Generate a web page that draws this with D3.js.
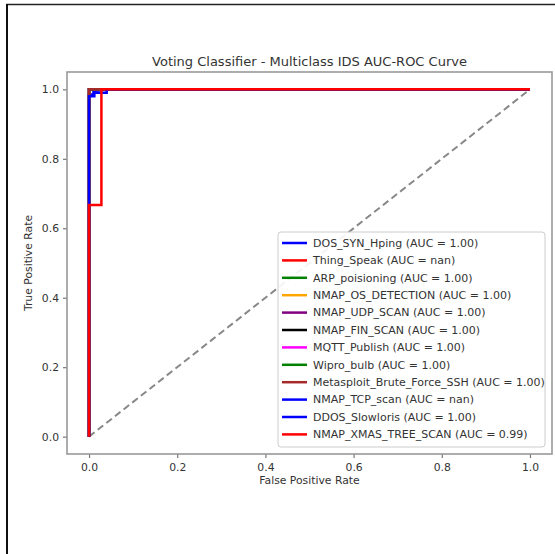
<!DOCTYPE html>
<html>
<head>
<meta charset="utf-8">
<script src="https://cdn.jsdelivr.net/npm/d3@7"></script>
<style>
  body { margin: 0; background: #fff; }
  text { font-family: "DejaVu Sans", sans-serif; fill: #333; }
</style>
</head>
<body>
<div id="chart-container"></div>
<script>
// class names, line colours and AUC labels (legend order)
var classNames = ["DOS_SYN_Hping", "Thing_Speak", "ARP_poisioning", "NMAP_OS_DETECTION",
  "NMAP_UDP_SCAN", "NMAP_FIN_SCAN", "MQTT_Publish", "Wipro_bulb",
  "Metasploit_Brute_Force_SSH", "NMAP_TCP_scan", "DDOS_Slowloris", "NMAP_XMAS_TREE_SCAN"];
var classColors = ["blue", "red", "green", "orange", "purple", "black", "magenta", "green",
  "brown", "blue", "blue", "red"];
var aucLabels = ["1.00", "nan", "1.00", "1.00", "1.00", "1.00", "1.00", "1.00", "1.00", "nan", "1.00", "0.99"];

// ROC points per class (NaN tpr = no positive samples, nothing drawn)
var fprValues = [
  [0, 0, 0.01, 0.01, 0.045, 1],
  [0, 1],
  [0, 0, 1],
  [0, 0, 1],
  [0, 0, 1],
  [0, 0, 1],
  [0, 0, 1],
  [0, 0, 1],
  [0, 0, 1],
  [0, 1],
  [0, 0, 0.012, 0.012, 0.04, 0.04, 1],
  [0, 0, 0.028, 0.028, 1]
];
var tprValues = [
  [0, 0.985, 0.985, 0.995, 1, 1],
  [NaN, NaN],
  [0, 1, 1],
  [0, 1, 1],
  [0, 1, 1],
  [0, 1, 1],
  [0, 1, 1],
  [0, 1, 1],
  [0, 1, 1],
  [NaN, NaN],
  [0, 0.98, 0.98, 0.99, 0.99, 1, 1],
  [0, 0.667, 0.667, 1, 1]
];

var tickValues = [0, 0.2, 0.4, 0.6, 0.8, 1.0];

var width = 555, height = 554;
var margin = { top: 72, right: 3, bottom: 100, left: 67 };
var plotW = width - margin.left - margin.right;
var plotH = height - margin.top - margin.bottom;

var svg = d3.select("#chart-container")
  .append("svg")
  .attr("width", width)
  .attr("height", height);

// outer frame of the screenshot (top and left only)
svg.append("line").attr("x1", 6).attr("x2", width).attr("y1", 4.5).attr("y2", 4.5)
  .attr("stroke", "#222").attr("stroke-width", 1.5);
svg.append("line").attr("x1", 7).attr("x2", 7).attr("y1", 4).attr("y2", height)
  .attr("stroke", "#111").attr("stroke-width", 2);

var g = svg.append("g")
  .attr("transform", "translate(" + margin.left + "," + margin.top + ")");

var x = d3.scaleLinear().domain([-0.05, 1.05]).range([0, plotW]);
var y = d3.scaleLinear().domain([-0.05, 1.05]).range([plotH, 0]);

// axes
var xAxis = g.append("g")
  .attr("transform", "translate(0," + plotH + ")")
  .call(d3.axisBottom(x).tickValues(tickValues).tickFormat(d3.format(".1f")).tickSize(4).tickPadding(5));
var yAxis = g.append("g")
  .call(d3.axisLeft(y).tickValues(tickValues).tickFormat(d3.format(".1f")).tickSize(4).tickPadding(4));

[xAxis, yAxis].forEach(function (ax) {
  ax.select(".domain").remove();
  ax.selectAll("line").attr("stroke", "#777").attr("stroke-width", 1.2);
  ax.selectAll("text").style("font-family", "DejaVu Sans").style("font-size", "10.8px").attr("fill", "#444");
});

// diagonal reference
g.append("line")
  .attr("x1", x(0)).attr("y1", y(0))
  .attr("x2", x(1)).attr("y2", y(1))
  .attr("stroke", "#888")
  .attr("stroke-width", 2)
  .attr("stroke-dasharray", "7,4");

// ROC curves
var line = d3.line()
  .defined(function (d) { return !isNaN(d[1]); })
  .x(function (d) { return x(d[0]); })
  .y(function (d) { return y(d[1]); });

classNames.forEach(function (name, i) {
  var pts = fprValues[i].map(function (f, j) { return [f, tprValues[i][j]]; });
  g.append("path")
    .datum(pts)
    .attr("d", line)
    .attr("fill", "none")
    .attr("stroke", classColors[i])
    .attr("stroke-width", 2.5);
});

// axes frame
g.append("rect")
  .attr("width", plotW).attr("height", plotH)
  .attr("fill", "none").attr("stroke", "#999").attr("stroke-width", 1.6);

// legend
var legendX = 211, legendY = 160, rowH = 17.4;
var legend = g.append("g").attr("transform", "translate(" + legendX + "," + legendY + ")");
legend.append("rect")
  .attr("width", 267).attr("height", 215)
  .attr("rx", 3).attr("ry", 3)
  .attr("fill", "white").attr("fill-opacity", 0.9)
  .attr("stroke", "#ccc").attr("stroke-width", 1);

classNames.forEach(function (name, i) {
  var row = legend.append("g").attr("transform", "translate(0," + (11 + i * rowH) + ")");
  row.append("line")
    .attr("x1", 4).attr("x2", 29)
    .attr("stroke", classColors[i]).attr("stroke-width", 2.5);
  row.append("text")
    .attr("x", 35).attr("dy", "0.35em")
    .style("font-size", "11px")
    .attr("fill", "#333")
    .text(name + " (AUC = " + aucLabels[i] + ")");
});

// title and axis labels
svg.append("text")
  .attr("x", margin.left + plotW / 2).attr("y", 66)
  .attr("text-anchor", "middle")
  .style("font-size", "13px")
  .attr("fill", "#333")
  .text("Voting Classifier - Multiclass IDS AUC-ROC Curve");

svg.append("text")
  .attr("x", margin.left + plotW / 2).attr("y", 484)
  .attr("text-anchor", "middle")
  .style("font-size", "10.8px")
  .attr("fill", "#444")
  .text("False Positive Rate");

svg.append("text")
  .attr("transform", "translate(32," + (margin.top + plotH / 2) + ") rotate(-90)")
  .attr("text-anchor", "middle")
  .style("font-size", "10.8px")
  .attr("fill", "#444")
  .text("True Positive Rate");
</script>
</body>
</html>
